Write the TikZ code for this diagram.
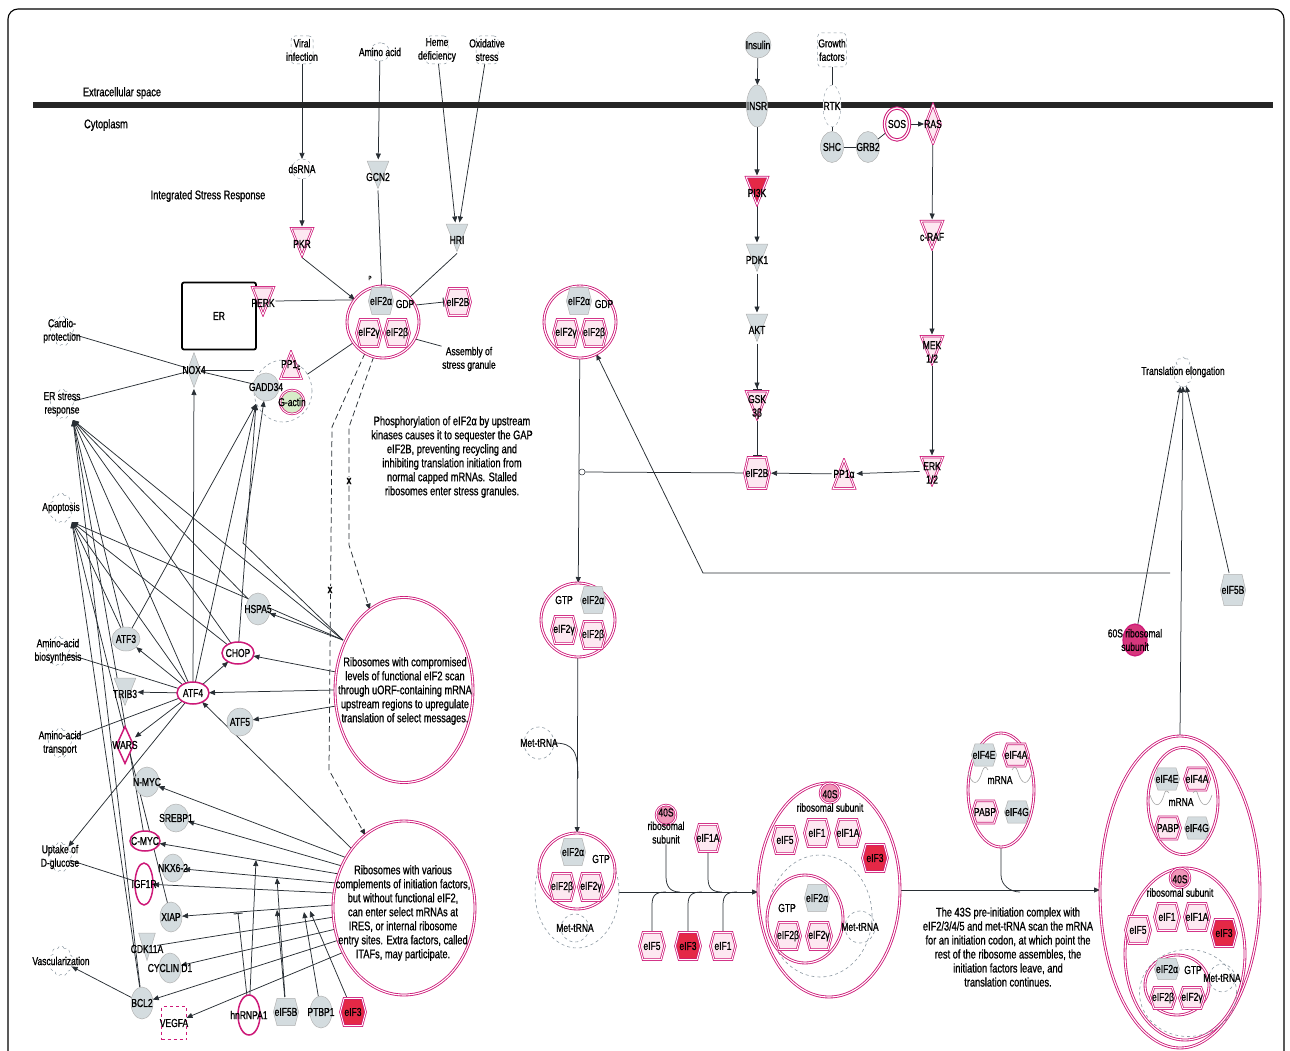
\documentclass[tikz,border=0pt]{standalone}
\usepackage{fontspec}
\setmainfont{Liberation Sans}[FakeStretch=0.74,FakeBold=0.9]
\usetikzlibrary{shapes.geometric,shapes.symbols,arrows.meta,backgrounds}
\definecolor{mag}{RGB}{205,25,120}
\definecolor{pinkf}{RGB}{253,232,241}
\definecolor{grayf}{RGB}{212,220,223}
\definecolor{redf}{RGB}{228,40,70}
\definecolor{lnc}{RGB}{40,46,52}
\definecolor{dashc}{RGB}{140,152,162}
\definecolor{sfort}{RGB}{240,150,185}
\definecolor{sixty}{RGB}{215,55,125}
\definecolor{gact}{RGB}{214,236,200}
\newcommand{\myfA}{\fontsize{11.5}{13.5}\selectfont}
\newcommand{\myfB}{\fontsize{12.5}{14}\selectfont}
\tikzset{
 txt/.style={inner sep=0.5pt, align=center, font=\myfA},
 note/.style={inner sep=0pt, align=center, font=\myfB},
 lab/.style={label={[txt]center:{#1}}},
 labk/.style={label={[txt,yshift=-2pt]center:{#1}}},
 mg/.style={draw=mag, line width=0.75pt, double=white, double distance=0.9pt, fill=pinkf},
 mgw/.style={draw=mag, line width=0.85pt, double=white, double distance=1.1pt, fill=white},
 mgs/.style={draw=mag, line width=1.5pt, fill=white},
 rd/.style={draw=mag, line width=0.75pt, double=white, double distance=0.9pt, fill=redf},
 gy/.style={draw=gray!60, line width=0.5pt, fill=grayf},
 shp/.style={inner sep=0pt, outer sep=0pt},
 kin/.style={shp, minimum width=25pt, minimum height=31pt, path picture={\path[#1] ([shift={(1.7pt,-1.7pt)}]path picture bounding box.north west) -- ([shift={(-1.7pt,-1.7pt)}]path picture bounding box.north east) -- ([shift={(0pt,2pt)}]path picture bounding box.south) -- cycle;}},
 phos/.style={shp, minimum width=25pt, minimum height=31pt, path picture={\path[#1] ([shift={(0pt,-2pt)}]path picture bounding box.north) -- ([shift={(-1.7pt,1.7pt)}]path picture bounding box.south east) -- ([shift={(1.7pt,1.7pt)}]path picture bounding box.south west) -- cycle;}},
 dia/.style={shp, path picture={\path[#1] ([shift={(0pt,-1.6pt)}]path picture bounding box.north) -- ([shift={(-1.6pt,0pt)}]path picture bounding box.east) -- ([shift={(0pt,1.6pt)}]path picture bounding box.south) -- ([shift={(1.6pt,0pt)}]path picture bounding box.west) -- cycle;}},
 hx/.style={shp, inner sep=1pt, minimum width=28pt, minimum height=30pt, font=\myfA, align=center, path picture={\path[#1] ([shift={(5pt,-1.4pt)}]path picture bounding box.north west) -- ([shift={(-5pt,-1.4pt)}]path picture bounding box.north east) -- ([shift={(-1.4pt,0pt)}]path picture bounding box.east) -- ([shift={(-5pt,1.4pt)}]path picture bounding box.south east) -- ([shift={(5pt,1.4pt)}]path picture bounding box.south west) -- ([shift={(1.4pt,0pt)}]path picture bounding box.west) -- cycle;}},
 el/.style={ellipse, shp},
 cx/.style={circle, mgw, shp},
 dcirc/.style={ellipse, draw=dashc, dashed, line width=0.6pt, shp},
 fn/.style={cloud, cloud puffs=9, aspect=0.8, draw=dashc, dashed, line width=0.5pt, minimum width=24pt, minimum height=30pt, shp},
 ex/.style={draw=dashc, dashed, line width=0.5pt, rounded corners=4pt, shp, minimum width=22pt, minimum height=28pt},
 ln/.style={draw=lnc, line width=0.75pt},
 ar/.style={ln, -{Triangle[length=6pt,width=5pt]}},
 inh/.style={ln, -{Bar[width=9pt,line width=1pt]}},
 dsh/.style={ln, dash pattern=on 6pt off 3.5pt},
 wv/.style={draw=gray!70, line width=0.6pt}
}
\begin{document}
\begin{tikzpicture}[x=1pt,y=-1pt]
\useasboundingbox (0,0) rectangle (1290,1051);
\begin{scope}
\clip (0,0) rectangle (1290,1051);
\draw[line width=1.1pt, rounded corners=10pt] (8,9) rectangle (1284,1080);
\end{scope}
% membrane
\draw[line width=5.5pt, black!85] (33,105) -- (1273,105);
\node[note] (ecs) at (122,93) {Extracellular space};
\node[note] (cyt) at (106,125) {Cytoplasm};
\node[note] (isr) at (208,196) {Integrated Stress Response};

% ---------- top inputs ----------
\node[ex, lab={Viral\\infection}] (vir) at (302,50) {};
\node[ex, minimum width=18pt, minimum height=18pt, rounded corners=8pt, lab={Amino acid}] (amino) at (380,52) {};
\node[ex, lab={Heme\\deficiency}] (heme) at (437,50) {};
\node[ex, lab={Oxidative\\stress}] (oxi) at (487,50) {};
\node[el, draw=dashc, dashed, minimum width=20pt, minimum height=20pt, lab={dsRNA}] (dsrna) at (302,169) {};
\node[kin=gy, labk=GCN2] (gcn2) at (378,175) {};
\node[kin=mg, labk=PKR] (pkr) at (302,242) {};
\node[kin=gy, labk=HRI] (hri) at (457,238) {};

% ---------- complex 1 ----------
\node[cx, minimum size=72pt] (c1) at (383,322) {};
\node[hx=gy] (c1a) at (381,301) {eIF2α};
\node[txt] (c1g) at (405,304) {GDP};
\node[hx=mg] (c1y) at (369,333) {eIF2γ};
\node[hx=mg] (c1b) at (397,333) {eIF2β};
\node[txt, font=\fontsize{6}{6}\selectfont] (c1p) at (370,278) {P};
\node[hx=mg] (eif2bL) at (458,302) {eIF2B};
\node[txt] (asm) at (469,359) {Assembly of\\stress granule};

% ER, PERK, NOX4, PP1c group
\node[draw, line width=1.8pt, rounded corners=2pt, minimum width=74pt, minimum height=67pt, shp, font=\myfA] (er) at (219,316) {ER};
\node[kin=mg, labk=PERK] (perk) at (263,301) {};
\node[dia=gy, minimum width=16pt, minimum height=38pt, lab=NOX4] (nox4) at (194,370) {};
\node[dcirc, minimum width=58pt, minimum height=62pt] (pp1grp) at (283,391) {};
\node[phos=mg, minimum width=24pt, minimum height=30pt, lab=PP1\textsubscript{c}] (pp1c) at (291,365) {};
\node[el, gy, minimum width=26pt, minimum height=28pt, lab=GADD34] (gadd) at (266,387) {};
\node[circle, draw=mag, line width=0.75pt, double=white, double distance=0.9pt, fill=gact, minimum size=24pt, shp, lab=G-actin] (gact) at (292,402) {};

% function nodes
\node[fn, lab={Cardio-\\protection}] (cardio) at (62,331) {};
\node[fn, lab={ER stress\\response}] (ers) at (62,404) {};
\node[fn, lab={Apoptosis}] (apop) at (61,508) {};
\node[fn, lab={Amino-acid\\biosynthesis}] (aab) at (58,651) {};
\node[fn, lab={Amino-acid\\transport}] (aat) at (60,743) {};
\node[fn, lab={Uptake of\\D-glucose}] (upt) at (60,857) {};
\node[fn, lab={Vascularization}] (vasc) at (61,961) {};

\node[note] (phtxt) at (452,457) {Phosphorylation of eIF2α by upstream\\kinases causes it to sequester the GAP\\eIF2B, preventing recycling and\\inhibiting translation initiation from\\normal capped mRNAs. Stalled\\ribosomes enter stress granules.};

% ribosome ellipses
\node[el, mgw, minimum width=138pt, minimum height=185pt] (r1) at (404,690) {};
\node[note] (r1t) at (405,691) {Ribosomes with compromised\\levels of functional eIF2 scan\\through uORF-containing mRNA\\upstream regions to upregulate\\translation of select messages.};
\node[el, mgw, minimum width=142pt, minimum height=174pt] (r2) at (404,908) {};
\node[note] (r2t) at (403,913) {Ribosomes with various\\complements of initiation factors,\\but without functional eIF2,\\can enter select mRNAs at\\IRES, or internal ribosome\\entry sites. Extra factors, called\\ITAFs, may participate.};
\node[txt, font=\bfseries\myfA, fill=white] (x1) at (349,481) {x};
\node[txt, font=\bfseries\myfA, fill=white] (x2) at (330,590) {x};

% left genes
\node[el, gy, minimum width=24pt, minimum height=32pt, lab=HSPA5] (hspa5) at (258,609) {};
\node[el, gy, minimum width=28pt, minimum height=24pt, lab=ATF3] (atf3) at (126,639) {};
\node[el, mgs, minimum width=32pt, minimum height=22pt, lab=CHOP] (chop) at (238,653) {};
\node[kin=gy, labk=TRIB3] (trib3) at (125,692) {};
\node[el, mgs, minimum width=32pt, minimum height=22pt, lab=ATF4] (atf4) at (193,693) {};
\node[el, gy, minimum width=26pt, minimum height=28pt, lab=ATF5] (atf5) at (240,722) {};
\node[dia=mgs, minimum width=20pt, minimum height=40pt, lab=WARS] (wars) at (125,745) {};
\node[el, gy, minimum width=24pt, minimum height=30pt, lab=N-MYC] (nmyc) at (147,782) {};
\node[el, gy, minimum width=25pt, minimum height=28pt, lab=SREBP1] (srebp) at (176,818) {};
\node[el, mgs, minimum width=30pt, minimum height=20pt, lab=C-MYC] (cmyc) at (145,841) {};
\node[el, gy, minimum width=22pt, minimum height=28pt, lab=NKX6-2] (nkx) at (173,868) {};
\node[el, mgs, minimum width=18pt, minimum height=42pt, lab=IGF1R] (igf) at (144,884) {};
\node[el, gy, minimum width=22pt, minimum height=30pt, lab=XIAP] (xiap) at (171,917) {};
\node[kin=gy, minimum width=20pt, labk=CDK11A] (cdk) at (147,947) {};
\node[el, gy, minimum width=22pt, minimum height=30pt, lab={CYCLIN D1}] (cyc) at (170,968) {};
\node[el, gy, minimum width=22pt, minimum height=32pt, lab=BCL2] (bcl2) at (142,1003) {};
\node[shp, draw=mag, dashed, line width=1.2pt, minimum width=25pt, minimum height=33pt, lab=VEGFA] (vegfa) at (174,1023) {};
\node[el, mgs, minimum width=22pt, minimum height=40pt, lab=hnRNPA1] (hnr) at (249,1015) {};
\node[hx=gy] (eif5bL) at (286,1012) {eIF5B};
\node[el, gy, minimum width=22pt, minimum height=32pt, lab=PTBP1] (ptbp) at (321,1012) {};
\node[hx=rd] (eif3L) at (353,1012) {eIF3};

% ---------- insulin / growth factor branch ----------
\node[circle, gy, minimum size=26pt, shp, lab=Insulin] (ins) at (758,45) {};
\node[ex, minimum width=29pt, minimum height=34pt, lab={Growth\\factors}] (gf) at (832,50) {};
\node[el, gy, minimum width=21pt, minimum height=42pt, lab=INSR] (insr) at (757,106) {};
\node[el, draw=dashc, dashed, fill=white, minimum width=18pt, minimum height=42pt, lab=RTK] (rtk) at (832,106) {};
\node[el, gy, minimum width=23pt, minimum height=31pt, lab=SHC] (shc) at (832,147) {};
\node[el, gy, minimum width=23pt, minimum height=31pt, lab=GRB2] (grb2) at (868,147) {};
\node[el, draw=mag, line width=1pt, double=white, double distance=1.3pt, fill=white, minimum width=25pt, minimum height=32pt, lab=SOS] (sos) at (897,124) {};
\node[dia=mg, minimum width=18pt, minimum height=42pt, lab=RAS] (ras) at (933,124) {};
\node[kin=rd, labk=PI3K] (pi3k) at (757,191) {};
\node[kin=gy, labk=PDK1] (pdk1) at (757,258) {};
\node[kin=gy, labk=AKT] (akt) at (757,328) {};
\node[kin=mg, labk={GSK\\3β}] (gsk) at (757,405) {};
\node[kin=mg, labk=c-RAF] (craf) at (932,235) {};
\node[kin=mg, labk={MEK\\1/2}] (mek) at (932,350) {};
\node[kin=mg, labk={ERK\\1/2}] (erk) at (932,471) {};
\node[phos=mg, minimum width=25pt, minimum height=32pt, lab=PP1α] (pp1a) at (844,474) {};
\node[hx=mg, minimum height=34pt] (eif2bR) at (757,473) {eIF2B};

% ---------- middle complexes ----------
\node[cx, minimum size=72pt] (c2) at (580,322) {};
\node[hx=gy] (c2a) at (579,301) {eIF2α};
\node[txt] (c2g) at (604,304) {GDP};
\node[hx=mg] (c2y) at (566,333) {eIF2γ};
\node[hx=mg] (c2b) at (594,333) {eIF2β};
\node[circle, draw=lnc, fill=white, line width=0.5pt, minimum size=6pt, shp] (junc) at (582,472) {};

\node[cx, minimum size=74pt] (c3) at (578,620) {};
\node[txt] (c3g) at (564,600) {GTP};
\node[hx=gy] (c3a) at (593,600) {eIF2α};
\node[hx=mg] (c3y) at (564,630) {eIF2γ};
\node[hx=mg] (c3b) at (593,635) {eIF2β};
\node[dcirc, minimum width=30pt, minimum height=32pt, lab=Met-tRNA] (met1) at (539,743) {};

\node[dcirc, minimum width=84pt, minimum height=112pt] (c4d) at (577,892) {};
\node[cx, minimum size=76pt] (c4) at (577,871) {};
\node[hx=gy] (c4a) at (573,852) {eIF2α};
\node[txt] (c4g) at (601,859) {GTP};
\node[hx=mg] (c4b) at (562,887) {eIF2β};
\node[hx=mg] (c4y) at (591,887) {eIF2γ};
\node[dcirc, minimum width=28pt, minimum height=28pt, lab=Met-tRNA] (met2) at (575,928) {};

% free factors
\node[circle, mg, fill=sfort, minimum size=20pt, shp] (s40a) at (666,815) {};
\node[txt] (s40at) at (666,826) {40S\\ribosomal\\subunit};
\node[hx=mg] (eif1aA) at (708,838) {eIF1A};
\node[hx=mg] (eif5A) at (652,946) {eIF5};
\node[hx=rd] (eif3A) at (688,946) {eIF3};
\node[hx=mg] (eif1A) at (723,946) {eIF1};

% complex 5
\node[el, mgw, minimum width=142pt, minimum height=214pt] (c5) at (829,890) {};
\node[circle, mg, fill=sfort, minimum size=20pt, shp] (s40b) at (830,793) {};
\node[txt] (s40bt) at (830,801) {40S\\ribosomal subunit};
\node[hx=mg] (c5e5) at (785,840) {eIF5};
\node[hx=mg] (c5e1) at (817,833) {eIF1};
\node[hx=mg] (c5e1a) at (848,833) {eIF1A};
\node[hx=rd] (c5e3) at (875,858) {eIF3};
\node[dcirc, minimum width=104pt, minimum height=122pt] (c5d) at (820,916) {};
\node[el, mgw, minimum width=76pt, minimum height=88pt] (c5in) at (805,919) {};
\node[txt] (c5g) at (787,908) {GTP};
\node[hx=gy] (c5a) at (817,898) {eIF2α};
\node[hx=mg] (c5b) at (788,936) {eIF2β};
\node[hx=mg] (c5y) at (819,936) {eIF2γ};
\node[dcirc, minimum width=30pt, minimum height=32pt, lab=Met-tRNA] (met3) at (860,927) {};

% complex 6
\node[el, mgw, minimum width=66pt, minimum height=114pt] (c6) at (1001,790) {};
\node[hx=gy, minimum height=25pt] (c6e4e) at (984,755) {eIF4E};
\node[hx=mg, minimum height=25pt] (c6e4a) at (1016,755) {eIF4A};
\node[txt] (c6m) at (1000,780) {mRNA};
\draw[wv] (968,772) .. controls (972,786) and (978,786) .. (982,772) .. controls (984,766) and (986,766) .. (988,770);
\draw[wv] (1012,770) .. controls (1014,766) and (1016,766) .. (1018,772) .. controls (1022,786) and (1028,786) .. (1032,772);
\node[hx=mg, minimum height=25pt] (c6p) at (985,812) {PABP};
\node[hx=gy, minimum height=25pt] (c6e4g) at (1017,812) {eIF4G};
\node[note] (t43) at (1008,947) {The 43S pre-initiation complex with\\eIF2/3/4/5 and met-tRNA scan the mRNA\\for an initiation codon, at which point the\\rest of the ribosome assembles, the\\initiation factors leave, and\\translation continues.};

% complex 7
\node[el, mgw, minimum width=160pt, minimum height=312pt] (c7) at (1180,892) {};
\node[el, mgw, minimum width=70pt, minimum height=107pt] (c7a) at (1183,801) {};
\node[hx=gy, minimum height=25pt] (c7e4e) at (1167,779) {eIF4E};
\node[hx=mg, minimum height=25pt] (c7e4a) at (1197,779) {eIF4A};
\node[txt] (c7m) at (1181,802) {mRNA};
\draw[wv] (1150,795) .. controls (1154,808) and (1160,808) .. (1164,795) .. controls (1165,790) and (1167,790) .. (1169,793);
\draw[wv] (1193,793) .. controls (1195,790) and (1197,790) .. (1198,795) .. controls (1202,808) and (1208,808) .. (1212,795);
\node[hx=mg, minimum height=25pt] (c7p) at (1168,828) {PABP};
\node[hx=gy, minimum height=25pt] (c7e4g) at (1197,828) {eIF4G};
\node[el, mgw, minimum width=120pt, minimum height=172pt] (c7b) at (1185,954) {};
\node[circle, mg, fill=sfort, minimum size=20pt, shp] (s40c) at (1180,878) {};
\node[txt] (s40ct) at (1180,886) {40S\\ribosomal subunit};
\node[hx=mg] (c7e5) at (1138,930) {eIF5};
\node[hx=mg] (c7e1) at (1167,917) {eIF1};
\node[hx=mg] (c7e1a) at (1197,917) {eIF1A};
\node[hx=rd] (c7e3) at (1224,933) {eIF3};
\node[dcirc, minimum width=97pt, minimum height=87pt] (c7d) at (1188,993) {};
\node[el, mgw, minimum width=64pt, minimum height=60pt] (c7in) at (1177,985) {};
\node[hx=gy, minimum height=24pt] (c7a2) at (1167,969) {eIF2α};
\node[txt] (c7g) at (1193,970) {GTP};
\node[hx=mg, minimum height=24pt] (c7b2) at (1163,998) {eIF2β};
\node[hx=mg, minimum height=24pt] (c7y2) at (1192,998) {eIF2γ};
\node[dcirc, minimum width=26pt, minimum height=28pt, lab=Met-tRNA] (met4) at (1222,978) {};

% right top
\node[fn, minimum width=20pt, minimum height=30pt, lab={Translation elongation}] (te) at (1183,372) {};
\node[el, draw=mag, line width=1.2pt, fill=sixty, minimum width=24pt, minimum height=32pt, lab={60S ribosomal\\subunit}] (s60) at (1135,640) {};
\node[hx=gy, minimum height=34pt] (eif5bR) at (1233,590) {eIF5B};

% ---------- coordinates ----------
\coordinate (erA) at (73,420);
\coordinate (apA) at (72,522);
\coordinate (gA) at (256,404);
\coordinate (r1p) at (343,640);
\coordinate (r1q) at (336,672);
\coordinate (r1s) at (336,706);
\coordinate (bend) at (243,543);
\coordinate (q0) at (353,850);
\coordinate (q1) at (347,858);
\coordinate (q2) at (342,866);
\coordinate (q3) at (339,874);
\coordinate (q4) at (336,883);
\coordinate (q5) at (334,893);
\coordinate (q6) at (333,905);
\coordinate (q7) at (334,917);
\coordinate (q8) at (336,929);
\coordinate (q9) at (339,940);
\coordinate (q10) at (344,952);
\coordinate (it1) at (256,860);
\coordinate (it2) at (238,913);
\coordinate (it3) at (277,878);
\coordinate (it4) at (277,910);
\coordinate (it5) at (304,912);
\coordinate (it6) at (310,911);
\coordinate (d1a) at (332,427);
\coordinate (d1b) at (329,770);
\coordinate (d2a) at (349,427);
\coordinate (d2b) at (349,545);
\coordinate (mj) at (578,778);
\coordinate (rc1) at (1170,573);
\coordinate (rc2) at (703,573);
\coordinate (j1) at (680,892);
\coordinate (j2) at (722,892);
\coordinate (j3) at (666,892);
\coordinate (j4) at (702,892);
\coordinate (j5) at (737,892);
\coordinate (j6) at (1020,892);

% ---------- connectors ----------
\begin{scope}[on background layer]
\draw[ar] (vir) -- (dsrna);
\draw[ar] (dsrna) -- (pkr);
\draw[ar] (amino) -- (gcn2);
\draw[ar] (heme) -- (hri);
\draw[ar] (oxi) -- (hri);
\draw[ar] (pkr.south) -- (c1);
\draw[ln] (hri.south) -- (c1);
\draw[ln] (gcn2.south) -- (c1);
\draw[ln] (perk.east) -- (c1.142);
\draw[inh] (c1.28) -- (eif2bL.west);
\draw[ln] (c1.-28) -- (asm.north west);
\draw[ln] (c1.215) -- (pp1grp);
\draw[ln] (nox4.east) -- (nox4.east -| pp1grp.west);
\draw[ln] (nox4) -- (gadd);
\draw[ln] (nox4) -- (cardio);
\draw[ln] (nox4) -- (ers);
\draw[ar] (atf4) -- (nox4);
% dashed
\draw[dsh, -{Triangle[length=6pt,width=5pt]}] (c1.240) -- (d1a) -- (d1b) -- (r2.118);
\draw[dsh, -{Triangle[length=6pt,width=5pt]}] (c1.255) -- (d2a) -- (d2b) -- (r1.113);
% to functions
\draw[ar] (bcl2) -- (erA);
\draw[ar] (cmyc) -- (erA);
\draw[ar] (atf3) -- (erA);
\draw[ar] (atf4) -- (erA);
\draw[ar] (chop) -- (erA);
\draw[ar] (hspa5) -- (erA);
\draw[ar] (r1p) -- (erA);
\draw[ar] (bcl2) -- (apA);
\draw[ar] (xiap) -- (apA);
\draw[ar] (atf3) -- (apA);
\draw[ar] (atf4) -- (apA);
\draw[ar] (chop) -- (apA);
\draw[ar] (r1p) -- (apA);
\draw[ar] (atf3) -- (gA);
\draw[ar] (atf4) -- (gA);
\draw[ar] (chop) -- (gA);
\draw[ar] (r1p) -- (bend) -- (gadd);
\draw[ar] (r1p) -- (hspa5);
\draw[ar] (r1q) -- (chop);
\draw[ar] (r1.west) -- (atf4);
\draw[ar] (r1s) -- (atf5);
\draw[ar] (atf4) -- (chop);
\draw[ar] (atf4) -- (atf3);
\draw[ar] (atf4) -- (trib3);
\draw[ar] (atf4) -- (wars);
\draw[ar] (atf4) -- (upt);
\draw[ln] (aab) -- (atf4);
\draw[ln] (aat) -- (atf4);
\draw[ar] (q0) -- (atf4);
\draw[ar] (q1) -- (nmyc);
\draw[ar] (q2) -- (srebp);
\draw[ar] (q3) -- (cmyc);
\draw[ar] (q4) -- (nkx);
\draw[ar] (q5) -- (igf);
\draw[ar] (q6) -- (xiap);
\draw[ln] (q7) -- (cdk);
\draw[ar] (q8) -- (cyc);
\draw[ar] (q9) -- (bcl2);
\draw[ar] (q10) -- (vegfa);
\draw[ar] (hnr) -- (it1);
\draw[inh] (hnr) -- (it2);
\draw[ar] (eif5bL) -- (it3);
\draw[ar] (eif5bL) -- (it4);
\draw[ar] (ptbp) -- (it5);
\draw[ar] (eif3L) -- (it6);
\draw[ar] (bcl2) -- (vasc);
\draw[ln] (igf) -- (upt);
% insulin / growth factor
\draw[ar] (ins) -- (insr);
\draw[ar] (insr) -- (pi3k);
\draw[ar] (pi3k) -- (pdk1);
\draw[ar] (pdk1) -- (akt);
\draw[ln, -{Triangle[length=6pt,width=5pt] Bar[width=9pt,line width=1pt]}] (akt) -- (gsk);
\draw[inh] (gsk) -- (eif2bR);
\draw[ln] (gf) -- (rtk);
\draw[ln] (rtk) -- (shc);
\draw[ln] (shc) -- (grb2);
\draw[ln] (grb2) -- (sos);
\draw[ar] (sos) -- (ras);
\draw[ar] (ras) -- (craf);
\draw[ar] (craf) -- (mek);
\draw[ar] (mek) -- (erk);
\draw[ar] (erk) -- (pp1a);
\draw[ar] (pp1a) -- (eif2bR);
\draw[ln] (eif2bR) -- (junc);
% middle
\draw[ar] (c2) -- (c3);
\draw[ar] (c3) -- (c4);
\draw[ln] (met1.east) .. controls (574,743) and (578,752) .. (mj);
\draw[ar] (rc1) -- (rc2) -- (c2.-63);
\draw[ar] (c4d.east) -- (c4d.east -| c5.west);
\draw[ln] (s40at.south) -- ++(0,32) .. controls +(0,10) and +(-10,0) .. (j1);
\draw[ln] (eif1aA.south) -- ++(0,25) .. controls +(0,10) and +(-10,0) .. (j2);
\draw[ln] (eif5A.north) -- ++(0,-26) .. controls +(0,-10) and +(-10,0) .. (j3);
\draw[ln] (eif3A.north) -- ++(0,-26) .. controls +(0,-10) and +(-10,0) .. (j4);
\draw[ln] (eif1A.north) -- ++(0,-26) .. controls +(0,-10) and +(-10,0) .. (j5);
\draw[ln] (c6.south) -- ++(0,28) .. controls +(0,10) and +(-10,0) .. (j6);
\draw[ar] (c5.east) -- (c5.east -| c7.west);
\draw[ar] (c7.north) -- (te);
\draw[ar] (s60) -- (te);
\draw[ar] (eif5bR) -- (te);
\end{scope}
\end{tikzpicture}
\end{document}
